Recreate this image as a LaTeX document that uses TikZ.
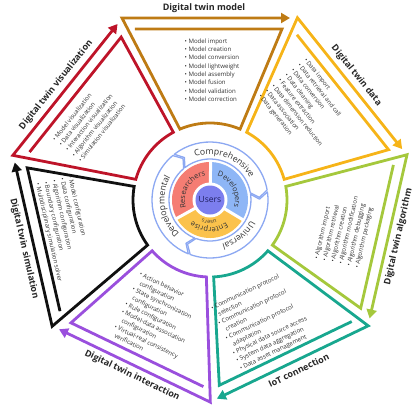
\documentclass[tikz,border=0pt]{standalone}
\usepackage{fontspec}
\setmainfont{Open Sans}
\usetikzlibrary{arrows.meta,decorations.text}
\definecolor{modelbrown}{HTML}{BE7B14}
\definecolor{datayellow}{HTML}{F6B418}
\definecolor{algogreen}{HTML}{A5C83C}
\definecolor{iotteal}{HTML}{18A78F}
\definecolor{interpurple}{HTML}{9A4FDD}
\definecolor{simblack}{HTML}{101010}
\definecolor{visred}{HTML}{BE1429}
\definecolor{ringblue}{HTML}{8CA8F2}
\definecolor{resred}{HTML}{F57D73}
\definecolor{devblue}{HTML}{8EB6F6}
\definecolor{entyellow}{HTML}{FBC24C}
\definecolor{userblue}{HTML}{7C7EEE}
\definecolor{usernavy}{HTML}{1E1E60}
\definecolor{itemgray}{HTML}{303030}
\tikzset{
  sectorline/.style={line width=2.8pt,-{Triangle[length=9pt,width=10pt]}},
  twtitle/.style={font=\bfseries\fontsize{9}{11}\selectfont,text=black!85,inner sep=0pt},
  itemlist/.style={font=\fontsize{6.1}{8.3}\selectfont,text=itemgray,align=left,inner sep=0pt},
  ringseg/.style={draw=ringblue,line width=1.3pt,fill=white,line join=round}
}
\newcommand{\bi}{\textbullet\ }
\newcommand{\bc}{\phantom{\textbullet\ }}
\newcommand{\twpath}[1]{%
  \draw[sectorline,#1] (-75,171) -- (72,171) -- (67:77)
    arc[start angle=67,end angle=113,radius=77] -- (-88,182) -- (80,182);}
\newcommand{\ringpart}[2]{%
  \draw[ringseg] (#1:58) arc[start angle=#1,end angle=#2,radius=58]
    -- ({#2-7}:49.5) -- (#2:41) arc[start angle=#2,end angle=#1,radius=41]
    -- ({#1-7}:49.5) -- cycle;}
\newcommand{\arctext}[5]{%
  \path[decorate,decoration={text along path,text align=center,text color=black!80,
    text={|#4|#5}}] (#2:#1) arc[start angle=#2,end angle=#3,radius=#1];}

\begin{document}
\begin{tikzpicture}[x=1pt,y=1pt]
  \useasboundingbox (-210,-210) rectangle (210,200);
  % outer sectors, clockwise
  \begin{scope}[rotate=0]
    \twpath{modelbrown}
    \node[twtitle] (modelT) at (-6,192) {Digital twin model};
    \node[itemlist] (modelL) at (2,130) {\bi Model import\\\bi Model creation\\\bi Model conversion\\\bi Model lightweight\\\bi Model assembly\\\bi Model fusion\\\bi Model validation\\\bi Model correction};
  \end{scope}
  \begin{scope}[rotate=-51.43]
    \twpath{datayellow}
    \node[twtitle,rotate=-51.43] (dataT) at (-6,192) {Digital twin data};
    \node[itemlist,rotate=-51.43] (dataL) at (-12,133) {\bi Data import\\\bi Data retrieval and call\\\bi Data conversion\\\bi Data cleaning\\\bi Feature extraction\\\bi Data dimension reduction\\\bi Data association\\\bi Data generation};
  \end{scope}
  \begin{scope}[rotate=-102.86]
    \twpath{algogreen}
    \node[twtitle,rotate=77.14] (algoT) at (-6,192) {Digital twin algorithm};
    \node[itemlist,rotate=77.14] (algoL) at (-1,138) {\bi Algorithm import\\\bi Algorithm retrieval\\\bi Algorithm creation\\\bi Algorithm modification\\\bi Algorithm debugging\\\bi Algorithm packaging};
  \end{scope}
  \begin{scope}[rotate=-154.29]
    \twpath{iotteal}
    \node[twtitle,rotate=25.71] (iotT) at (-6,192) {IoT connection};
    \node[itemlist,rotate=25.71] (iotL) at (5,132) {\bi Communication protocol\\\bc selection\\\bi Communication protocol\\\bc creation\\\bi Communication protocol\\\bc adaptation\\\bi Physical data source access\\\bi System data aggregation\\\bi Data asset management};
  \end{scope}
  \begin{scope}[rotate=-205.71]
    \twpath{interpurple}
    \node[twtitle,rotate=-25.71] (interT) at (-6,192) {Digital twin interaction};
    \node[itemlist,rotate=-25.71] (interL) at (-4,130) {\bi Action behavior\\\bc configuration\\\bi State synchronization\\\bc configuration\\\bi Rule configuration\\\bi Model-data association\\\bc configuration\\\bi Virtual-real consistency\\\bc verification};
  \end{scope}
  \begin{scope}[rotate=-257.14]
    \twpath{simblack}
    \node[twtitle,rotate=-77.14] (simT) at (-6,192) {Digital twin simulation};
    \node[itemlist,rotate=-77.14] (simL) at (4,148) {\bi Model configuration\\\bi Data configuration\\\bi Algorithm configuration\\\bi Boundary configuration\\\bi Multidisciplinary simulation solver};
  \end{scope}
  \begin{scope}[rotate=-308.57]
    \twpath{visred}
    \node[twtitle,rotate=51.43] (visT) at (-6,192) {Digital twin visualization};
    \node[itemlist,rotate=51.43] (visL) at (-15,143) {\bi Model visualization\\\bi Data visualization\\\bi Interaction visualization\\\bi Algorithm visualization\\\bi Simulation visualization};
  \end{scope}
  % ring of three arrows
  \ringpart{128}{10}
  \ringpart{8}{-110}
  \ringpart{-112}{-230}
  \arctext{45.5}{125}{13}{\fontsize{8.7}{10}\selectfont}{Comprehensive}
  \arctext{45.5}{5}{-107}{\fontsize{8.7}{10}\selectfont}{Universal}
  \arctext{45.5}{-115}{-227}{\fontsize{8.7}{10}\selectfont}{Developmental}
  % users pie
  \fill[devblue] (0,0) -- (-31:38) arc[start angle=-31,end angle=89,radius=38] -- cycle;
  \fill[resred] (0,0) -- (89:38) arc[start angle=89,end angle=209,radius=38] -- cycle;
  \fill[entyellow] (0,0) -- (209:38) arc[start angle=209,end angle=329,radius=38] -- cycle;
  \foreach \gap in {89,209,329}{\draw[white,line width=3pt] (0,0) -- (\gap:40);}
  \fill[white] (0,0) circle (17.5);
  \node[circle,fill=userblue,minimum size=29pt,inner sep=0pt,text=usernavy,font=\fontsize{8.5}{10}\selectfont] (users) at (0,0) {Users};
  \arctext{25}{200}{98}{\fontsize{7.5}{9}\selectfont}{Researchers}
  \arctext{25}{82}{-26}{\fontsize{7.5}{9}\selectfont}{Developers}
  \arctext{27.5}{322}{214}{\fontsize{7.5}{9}\selectfont}{Enterprise}
  \arctext{20.5}{305}{231}{\fontsize{5.5}{7}\selectfont}{users}
\end{tikzpicture}
\end{document}
